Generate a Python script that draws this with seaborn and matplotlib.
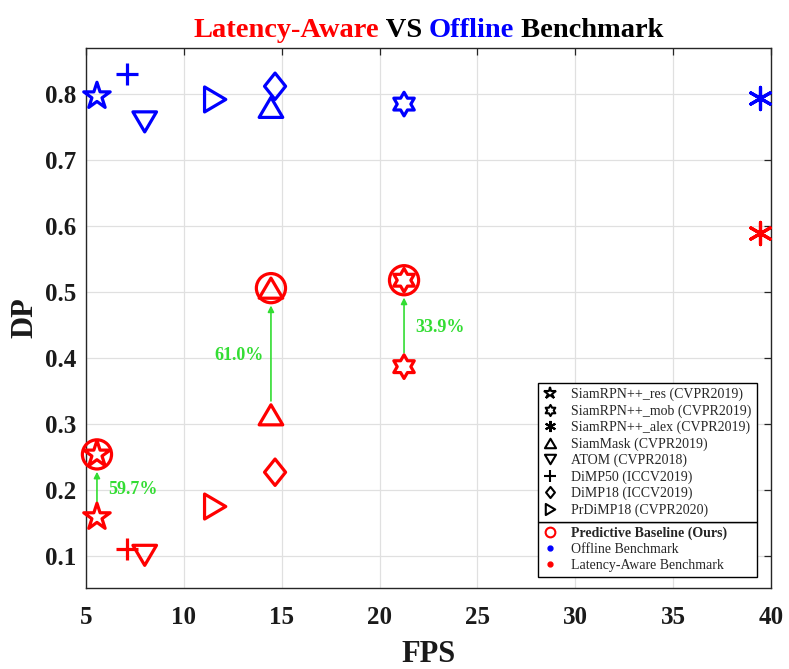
import matplotlib
matplotlib.use("Agg")
import matplotlib.pyplot as plt
import seaborn as sns
import numpy as np
import pandas as pd
from matplotlib.path import Path
from matplotlib.lines import Line2D
from matplotlib.legend import Legend
from matplotlib.offsetbox import TextArea, HPacker, AnchoredOffsetbox

# ---------------- data ----------------
trackers = ['SiamRPN++_res', 'SiamRPN++_mob', 'SiamRPN++_alex', 'SiamMask',
            'ATOM', 'DiMP50', 'DiMP18', 'PrDiMP18']
venues = ['CVPR2019', 'CVPR2019', 'CVPR2019', 'CVPR2019',
          'CVPR2018', 'ICCV2019', 'ICCV2019', 'CVPR2020']
fps = [5.56, 21.25, 39.45, 14.45, 8.0, 7.1, 14.66, 11.6]
dp_offline = [0.797, 0.785, 0.794, 0.780, 0.758, 0.830, 0.812, 0.792]
dp_latency = [0.159, 0.387, 0.590, 0.314, 0.101, 0.111, 0.227, 0.175]
pred_trackers = ['SiamRPN++_res', 'SiamMask', 'SiamRPN++_mob']
dp_predictive = [0.254, 0.506, 0.518]
gain_labels = ['59.7%', '61.0%', '33.9%']

title_parts = ['Latency-Aware', ' VS ', 'Offline', ' Benchmark']

# ---------------- style ----------------
sns.set_theme(style='white')
plt.rcParams['font.family'] = ['Liberation Serif', 'DejaVu Serif']
plt.rcParams['axes.unicode_minus'] = False

RED = '#FF0000'
BLUE = '#0000FF'
GREEN = '#33DD33'
AX_C = '0.15'

def verts_marker(v):
    return Path(np.array(v + [v[0]]), closed=True)

MARKERS = {
    'SiamRPN++_res': '*',
    'SiamRPN++_mob': Path.unit_regular_star(6, 0.577),
    'SiamRPN++_alex': (6, 2, 0),
    'SiamMask': verts_marker([(0, 0.85), (-1, -0.85), (1, -0.85)]),
    'ATOM': verts_marker([(0, -0.85), (-1, 0.85), (1, 0.85)]),
    'DiMP50': '+',
    'DiMP18': verts_marker([(0, 1), (0.8, 0), (0, -1), (-0.8, 0)]),
    'PrDiMP18': verts_marker([(0.85, 0), (-0.85, 1), (-0.85, -1)]),
}
SIZES = {  # marker size in points
    'SiamRPN++_res': 20, 'SiamRPN++_mob': 17, 'SiamRPN++_alex': 16,
    'SiamMask': 17, 'ATOM': 17, 'DiMP50': 16, 'DiMP18': 19, 'PrDiMP18': 18,
}
LW = 2.3
UNFILLED = {'DiMP50', 'SiamRPN++_alex'}

fig = plt.figure(figsize=(7.89, 6.69), dpi=100)
ax = fig.add_axes([86 / 789, 1 - 588 / 669, (771 - 86) / 789, (588 - 48) / 669])


def draw_point(x, y, tracker, color, size=None, marker=None):
    m = MARKERS[tracker] if marker is None else marker
    ms = SIZES[tracker] if size is None else size
    if tracker in UNFILLED and marker is None:
        sns.scatterplot(x=[x], y=[y], marker=m, s=ms ** 2, color=color,
                        linewidth=LW, ax=ax, zorder=3, legend=False,
                        clip_on=False)
    else:
        sns.scatterplot(x=[x], y=[y], marker=m, s=ms ** 2, color=color,
                        facecolor='none', edgecolor=color,
                        linewidth=LW, ax=ax, zorder=3, legend=False,
                        clip_on=False)


for i, t in enumerate(trackers):
    draw_point(fps[i], dp_offline[i], t, BLUE)
    draw_point(fps[i], dp_latency[i], t, RED)

for j, t in enumerate(pred_trackers):
    i = trackers.index(t)
    draw_point(fps[i], dp_predictive[j], t, RED)
    draw_point(fps[i], dp_predictive[j], t, RED, size=21, marker='o')

# improvement arrows and labels
label_side = {'SiamRPN++_res': 'right', 'SiamMask': 'left', 'SiamRPN++_mob': 'right'}
for j, t in enumerate(pred_trackers):
    i = trackers.index(t)
    x = fps[i]
    ax.annotate('', xy=(x, dp_predictive[j]), xytext=(x, dp_latency[i]),
                arrowprops=dict(arrowstyle='-|>', color=GREEN, lw=1.2,
                                shrinkA=10, shrinkB=12.5, mutation_scale=9),
                zorder=2)
    mid = (dp_predictive[j] + dp_latency[i]) / 2
    side = label_side[t]
    dx = 8 if side == 'right' else -5
    ax.annotate(gain_labels[j], xy=(x, mid), xytext=(dx, -3),
                textcoords='offset points', color=GREEN, fontsize=13,
                fontweight='bold', ha='left' if side == 'right' else 'right',
                va='center')

# axes
ax.set_xlim(5, 40)
ax.set_ylim(0.0515, 0.870)
ax.set_xticks(np.arange(5, 41, 5))
ax.set_yticks(np.arange(0.1, 0.81, 0.1))
ax.set_xticklabels([str(v) for v in range(5, 41, 5)])
ax.set_yticklabels([f'{v:.1f}' for v in np.arange(0.1, 0.81, 0.1)])
ax.grid(True, color='0.88', linewidth=0.9)
ax.set_axisbelow(True)
for s in ax.spines.values():
    s.set_color(AX_C)
    s.set_linewidth(1.0)
ax.tick_params(direction='in', top=True, right=True, length=5, width=0.9,
               color=AX_C, labelcolor='0.1', labelsize=18)
ax.tick_params(axis='x', pad=13)
ax.tick_params(axis='y', pad=7)
for lab in ax.get_xticklabels() + ax.get_yticklabels():
    lab.set_fontweight('bold')
ax.set_xlabel('FPS', fontsize=22, fontweight='bold', color='0.1', labelpad=8)
ax.set_ylabel('DP', fontsize=22, fontweight='bold', color='0.1', labelpad=4)

# title
title_colors = [RED, 'black', BLUE, 'black']
boxes = [TextArea(p, textprops=dict(color=c, fontsize=20.5, fontweight='bold'))
         for p, c in zip(title_parts, title_colors)]
pack = HPacker(children=boxes, align='baseline', pad=0, sep=0)
anch = AnchoredOffsetbox(loc='lower center', child=pack, pad=0, borderpad=0.3,
                         frameon=False, bbox_to_anchor=(0.5, 1.0),
                         bbox_transform=ax.transAxes)
ax.add_artist(anch)

# legends
LEG_X0 = (538 - 86) / 685
LEG_W = (757 - 538) / 685
leg_kw = dict(fontsize=10, frameon=True, fancybox=False, framealpha=1,
              edgecolor='black', borderpad=0.35, labelspacing=0.22,
              handlelength=1.0, handletextpad=1.0, borderaxespad=0,
              mode='expand', loc='lower left')

hB = [Line2D([], [], ls='', marker='o', ms=7, mfc='none', mec=RED, mew=1.5),
      Line2D([], [], ls='', marker='o', ms=3.5, color=BLUE),
      Line2D([], [], ls='', marker='o', ms=3.5, color=RED)]
lB = ['Predictive Baseline (Ours)', 'Offline Benchmark', 'Latency-Aware Benchmark']
legB = Legend(ax, hB, lB, bbox_to_anchor=(LEG_X0, (588 - 577) / 540, LEG_W, 0),
              **leg_kw)
legB.get_frame().set_linewidth(1.0)
legB.get_texts()[0].set_fontweight('bold')
ax.add_artist(legB)

fig.canvas.draw()
bb = legB.get_window_extent().transformed(ax.transAxes.inverted())

hA = []
for t in trackers:
    m = MARKERS[t]
    ms = 8 if t != 'SiamRPN++_res' else 9
    if t in UNFILLED:
        hA.append(Line2D([], [], ls='', marker=m, ms=ms, color='black', mew=1.5))
    else:
        hA.append(Line2D([], [], ls='', marker=m, ms=ms, mfc='none',
                         mec='black', mew=1.5))
lA = [f'{t} ({v})' for t, v in zip(trackers, venues)]
legA = Legend(ax, hA, lA, bbox_to_anchor=(LEG_X0, bb.y1, LEG_W, 0), **leg_kw)
legA.get_frame().set_linewidth(1.0)
ax.add_artist(legA)

fig.savefig('out.png', dpi=100)
